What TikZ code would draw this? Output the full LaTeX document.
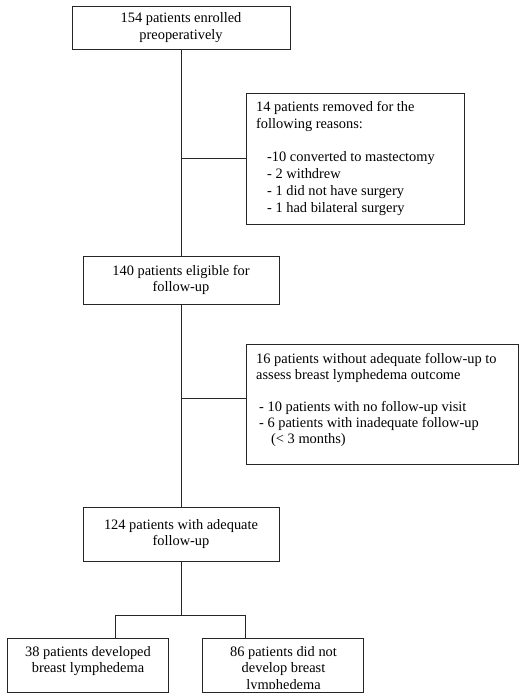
\documentclass[tikz,border=0pt]{standalone}
\usepackage{fontspec}
\setmainfont{Liberation Serif}
\begin{document}
\begin{tikzpicture}[x=1pt,y=-1pt,
  box/.style={draw=black!85, line width=0.8pt, inner sep=0pt},
  txt/.style={font=\fontsize{14.4}{16.7}\selectfont, align=center, inner sep=0pt},
  txtb/.style={font=\fontsize{14.4}{16}\selectfont, align=left, inner sep=0pt},
  ln/.style={draw=black!85, line width=0.8pt}]
\useasboundingbox (0,0) rectangle (525,699);
% boxes
\node[box, txt, minimum width=218pt, minimum height=43pt] (b1) at (181,27.5) {154 patients enrolled\\preoperatively};
\node[box, minimum width=218pt, minimum height=131pt] (b2) at (355,158.5) {};
\node[txt, align=left, anchor=north west] (t2) at (256,101.5)
  {14 patients removed for the\\following reasons:\\[16.7pt]
   \hspace*{11pt}-10 converted to mastectomy\\
   \hspace*{11pt}- 2 withdrew\\
   \hspace*{11pt}- 1 did not have surgery\\
   \hspace*{11pt}- 1 had bilateral surgery};
\node[box, txt, minimum width=196pt, minimum height=48pt] (b3) at (181,280) {140 patients eligible for\\follow-up};
\node[box, minimum width=272pt, minimum height=120pt] (b4) at (382,404) {};
\node[txtb, anchor=north west] (t4) at (256,353)
  {16 patients without adequate follow-up to\\assess breast lymphedema outcome\\[16pt]
   \hspace*{3pt}- 10 patients with no follow-up visit\\
   \hspace*{3pt}- 6 patients with inadequate follow-up\\
   \hspace*{15pt}(< 3 months)};
\node[box, txt, minimum width=196pt, minimum height=54pt] (b5) at (181,534) {124 patients with adequate\\follow-up};
\node[box, minimum width=161pt, minimum height=54pt] (b6) at (87.5,665) {};
\node[txt, anchor=north] (t6) at (88,646) {38 patients developed\\breast lymphedema};
\node[box, minimum width=161pt, minimum height=54pt] (b7) at (282.5,665) {};
\begin{scope}
  \clip (b7.north west) rectangle ([yshift=3.5pt]b7.south east);
  \node[txt, anchor=north] (t7) at (283.5,646) {86 patients did not\\develop breast\\lymphedema};
\end{scope}
% connectors
\coordinate (j1) at (181,158.5);
\coordinate (j2) at (181,398);
\coordinate (sp) at (181,615);
\coordinate (sl) at (115,615);
\coordinate (sr) at (245,615);
\draw[ln] (b1.south) -- (b3.north);
\draw[ln] (j1) -- (b2.west);
\draw[ln] (b3.south) -- (b5.north);
\draw[ln] (j2) -- (j2 -| b4.west);
\draw[ln] (b5.south) -- (sp);
\draw[ln] (sl) -- (sr);
\draw[ln] (sl) -- (sl |- b6.north);
\draw[ln] (sr) -- (sr |- b7.north);
\end{tikzpicture}
\end{document}
